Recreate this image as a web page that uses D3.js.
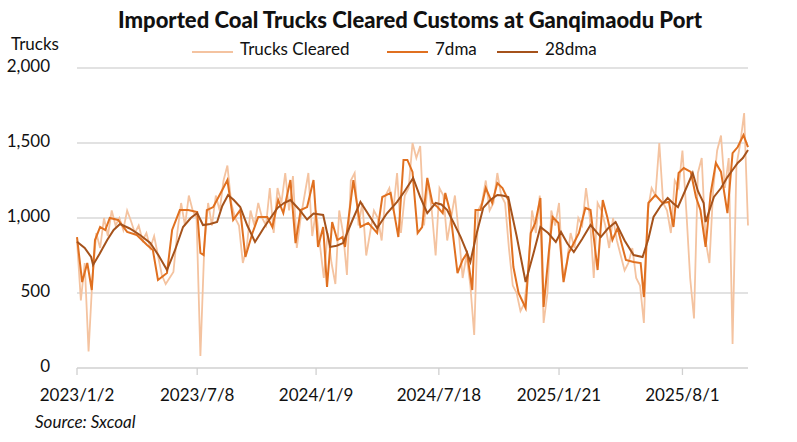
<!DOCTYPE html>
<html>
<head>
<meta charset="utf-8">
<script src="https://cdn.jsdelivr.net/npm/d3@7"></script>
<style>
  body { margin: 0; background: #fff; }
  text { font-family: Lato, "Open Sans", sans-serif; fill: #111; }
</style>
</head>
<body>
<svg id="chart" width="797" height="442"></svg>
<script>
// x is the trading-day index from 2023/1/2
var tickIdx = [0, 187, 372, 563, 750, 942];
var tickLabels = ["2023/1/2", "2023/7/8", "2024/1/9", "2024/7/18", "2025/1/21", "2025/8/1"];
var yTicks = [0, 500, 1000, 1500, 2000];

var rawIdx = d3.range(0, 1045, 6);
var rawVals = [850,450,700,110,600,900,800,1000,880,1050,950,1000,920,1050,980,900,950,850,900,800,
  880,750,620,560,600,640,900,1100,950,1150,1050,1000,80,800,1100,950,1150,1050,1250,1350,
  1100,1000,950,700,800,1050,950,1100,1000,950,1200,900,1200,1100,1300,1050,1280,800,1000,1150,
  1300,880,1050,820,600,900,700,560,1050,900,620,1250,1300,950,1100,750,900,1050,1000,850,
  1150,1200,1050,1300,900,1150,1200,1500,1400,1480,950,1250,1050,750,1200,1150,850,1000,1150,900,
  600,750,550,220,1050,1100,1250,1050,1100,1300,1150,1100,800,550,500,380,430,650,1050,900,
  1150,300,500,1050,950,1100,600,700,900,800,1000,950,1200,1000,600,1100,1050,950,800,1000,
  850,750,650,700,800,600,550,300,1050,1200,1150,1500,1100,1050,900,1250,1200,1450,1050,600,
  330,1300,1400,850,700,1200,1450,1550,1200,1400,160,1350,1500,1700,950];

var ma7 = [[0,873],[8,573],[16,700],[23,520],[28,853],[36,940],[44,920],[51,1000],[64,987],[78,907],
  [93,887],[109,820],[118,787],[126,587],[140,633],[148,920],[160,1053],[173,1053],[187,1040],[192,767],
  [197,753],[202,1053],[212,1073],[226,1187],[234,1253],[243,987],[254,1053],[262,740],[273,900],[282,1007],
  [296,1007],[304,940],[313,1120],[321,1033],[332,1253],[340,833],[348,1053],[358,1073],[368,1253],[375,807],
  [383,940],[389,540],[397,973],[405,853],[413,873],[417,807],[430,1253],[441,940],[453,967],[467,900],
  [475,1140],[488,1167],[500,873],[508,1387],[514,1387],[522,1307],[530,900],[537,940],[545,1267],[553,1100],
  [561,1073],[569,1033],[573,1167],[581,1033],[592,633],[600,720],[607,767],[615,520],[620,1053],[628,1053],
  [636,1200],[646,1100],[654,1233],[662,1200],[671,1120],[679,673],[687,500],[698,400],[706,900],[713,967],
  [721,1133],[726,407],[734,767],[740,1007],[749,967],[757,573],[765,767],[773,833],[781,900],[791,1067],
  [799,1053],[810,653],[818,1120],[825,1007],[833,853],[841,933],[854,720],[866,707],[877,700],[882,473],
  [889,1100],[900,1153],[911,1100],[921,1107],[928,940],[936,1300],[944,1333],[955,1307],[963,1140],[970,1053],
  [978,807],[986,1167],[994,1367],[1002,1307],[1012,1033],[1020,1433],[1028,1473],[1037,1553],[1044,1473]];

var ma28 = [[0,842],[12,800],[22,740],[25,687],[35,760],[47,853],[57,920],[67,960],[82,930],[98,887],
  [114,833],[127,750],[140,653],[152,780],[165,940],[177,1000],[187,1033],[196,953],[207,960],[218,973],
  [226,1080],[235,1153],[244,1120],[254,1073],[265,950],[277,840],[290,930],[301,1000],[312,1067],[322,1100],
  [332,1120],[345,1060],[358,990],[368,1030],[383,1020],[394,807],[404,815],[414,833],[428,980],[441,1107],
  [454,1020],[467,933],[482,1030],[498,1107],[510,1180],[523,1267],[534,1140],[545,1033],[558,1100],[567,1090],
  [576,1053],[587,960],[597,873],[605,790],[612,707],[622,900],[632,1067],[643,1120],[654,1153],[662,1150],
  [671,1140],[684,880],[698,573],[710,760],[721,940],[733,900],[745,840],[753,907],[763,830],[773,773],
  [786,860],[799,953],[815,873],[826,930],[838,973],[852,850],[866,753],[880,740],[889,860],[897,1007],
  [908,1080],[919,1133],[927,1100],[935,1073],[947,1190],[958,1300],[966,1180],[975,1100],[978,973],[991,1140],
  [1002,1200],[1012,1273],[1020,1320],[1028,1367],[1036,1400],[1044,1453]];

var svg = d3.select("#chart");
var x = d3.scaleLinear().domain([0, 1044]).range([77, 748]);
var y = d3.scaleLinear().domain([0, 2000]).range([368, 68]);

// grid
svg.append("g").selectAll("line").data(yTicks.filter(function(d){ return d > 0; })).join("line")
  .attr("x1", 77).attr("x2", 748).attr("y1", y).attr("y2", y)
  .attr("stroke", "#d9d9d9").attr("stroke-width", 1.3);
svg.append("line").attr("x1", 77).attr("x2", 748).attr("y1", y(0)).attr("y2", y(0))
  .attr("stroke", "#d0d0d0").attr("stroke-width", 1.3);

svg.append("g").selectAll("text").data(yTicks).join("text")
  .attr("x", 50).attr("y", function(d){ return y(d) + 4; })
  .attr("text-anchor", "end").attr("font-size", 17)
  .text(d3.format(","));

svg.append("g").selectAll("line").data(tickIdx).join("line")
  .attr("x1", x).attr("x2", x).attr("y1", 368).attr("y2", 375).attr("stroke", "#d0d0d0").attr("stroke-width", 1.3);
svg.append("g").selectAll("text").data(tickIdx).join("text")
  .attr("x", x).attr("y", 401).attr("text-anchor", "middle").attr("font-size", 17)
  .text(function(d, i){ return tickLabels[i]; });

var line = d3.line().x(function(d){ return x(d[0]); }).y(function(d){ return y(d[1]); });
var raw = rawIdx.map(function(d, i){ return [d, rawVals[i]]; });

svg.append("path").datum(raw).attr("d", line).attr("fill", "none")
  .attr("stroke", "#f4c3a0").attr("stroke-width", 1.8);
svg.append("path").datum(ma7).attr("d", line).attr("fill", "none")
  .attr("stroke", "#e07020").attr("stroke-width", 2);
svg.append("path").datum(ma28).attr("d", line).attr("fill", "none")
  .attr("stroke", "#a5521b").attr("stroke-width", 2);

// title, legend, labels
svg.append("text").attr("x", 410).attr("y", 28).attr("text-anchor", "middle")
  .attr("font-size", 22).attr("font-weight", "900").text("Imported Coal Trucks Cleared Customs at Ganqimaodu Port");
svg.append("text").attr("x", 11).attr("y", 50).attr("font-size", 17).text("Trucks");

var legend = [
  { name: "Trucks Cleared", color: "#f4c3a0", x: 192 },
  { name: "7dma", color: "#e07020", x: 387 },
  { name: "28dma", color: "#a5521b", x: 497 }
];
var lg = svg.append("g").selectAll("g").data(legend).join("g");
lg.append("line").attr("x1", function(d){ return d.x; }).attr("x2", function(d){ return d.x + 41; })
  .attr("y1", 52).attr("y2", 52).attr("stroke", function(d){ return d.color; }).attr("stroke-width", 2);
lg.append("text").attr("x", function(d){ return d.x + 48; }).attr("y", 55).attr("font-size", 17)
  .text(function(d){ return d.name; });

svg.append("text").attr("x", 35).attr("y", 428).attr("font-size", 17).attr("font-style", "italic")
  .text("Source: Sxcoal");
</script>
</body>
</html>
